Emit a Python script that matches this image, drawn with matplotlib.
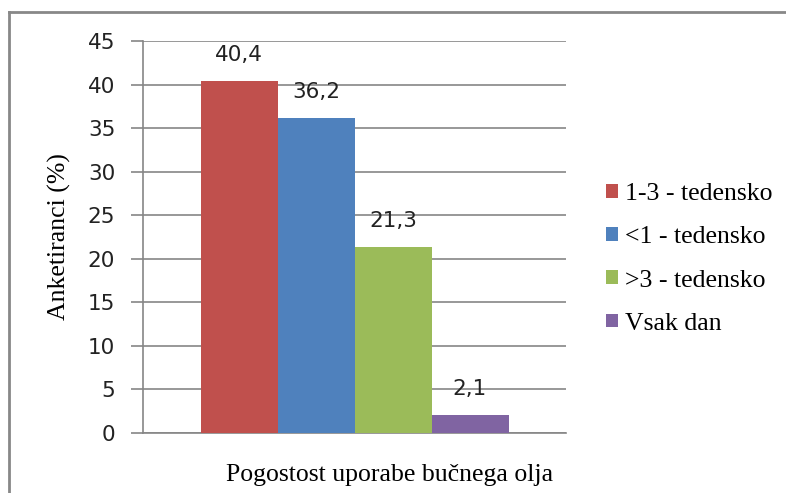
import matplotlib
matplotlib.use("Agg")
import matplotlib.pyplot as plt
from matplotlib.lines import Line2D
from matplotlib.patches import Patch

categories = ["1-3 - tedensko", "<1 - tedensko", ">3 - tedensko", "Vsak dan"]
values = [40.4, 36.2, 21.3, 2.1]
value_labels = ["40,4", "36,2", "21,3", "2,1"]
colors = ["#C0504D", "#4F81BD", "#9BBB59", "#8064A2"]
yticks = [0, 5, 10, 15, 20, 25, 30, 35, 40, 45]

fig = plt.figure(figsize=(7.86, 4.93), dpi=100)
ax = fig.add_axes([143 / 786, 1 - 433 / 493, (566 - 143) / 786, (433 - 41) / 493])

width = 77 / 423
n = len(values)
for i, (v, c, lab) in enumerate(zip(values, colors, value_labels)):
    x = (i - (n - 1) / 2) * width
    ax.bar(x, v, width=width, color=c, zorder=3, linewidth=0)
    ax.text(x, v + 3.0, lab, ha="center", va="center", fontsize=15.5,
            family="DejaVu Sans", color="#222222", zorder=4)

ax.set_xlim(-0.5, 0.5)
ax.set_ylim(0, 45)
ax.set_yticks(yticks)
ax.set_yticklabels([str(t) for t in yticks], fontsize=15.5, family="DejaVu Sans", color="#222222")
ax.set_xticks([])
ax.yaxis.grid(True, color="#868686", linewidth=1.2, zorder=0)
ax.set_axisbelow(True)
for s in ["top", "right"]:
    ax.spines[s].set_visible(False)
ax.spines["left"].set_color("#868686")
ax.spines["bottom"].set_color("#868686")
ax.spines["left"].set_linewidth(1.2)
ax.spines["bottom"].set_linewidth(1.2)
ax.tick_params(axis="y", length=9, width=1.2, color="#868686", pad=11)

ax.set_ylabel("Anketiranci (%)", family="Liberation Serif", fontsize=18.5)
ax.yaxis.set_label_coords((59 - 143) / 423, 0.5)
ax.set_xlabel("Pogostost uporabe bučnega olja", family="Liberation Serif", fontsize=18.5)
ax.xaxis.set_label_coords((390 - 143) / 423, -(475 - 433) / 392)
ax.xaxis.label.set_va("center")
ax.yaxis.label.set_va("center")

handles = [Patch(facecolor=c, edgecolor="none") for c in colors]
fig.legend(handles, categories, loc="center left", bbox_to_anchor=(606 / 786, 1 - 259 / 493),
           frameon=False, prop={"family": "Liberation Serif", "size": 18.5},
           handlelength=0.45, handleheight=0.45, handletextpad=0.3, labelspacing=0.82,
           borderaxespad=0, borderpad=0)

# outer chart frame (top and left edges)
fig.add_artist(Line2D([9 / 786, 1], [1 - 12 / 493, 1 - 12 / 493], color="#888888", linewidth=2))
fig.add_artist(Line2D([9 / 786, 9 / 786], [0, 1 - 12 / 493], color="#888888", linewidth=2))

fig.savefig("out.png", dpi=100)
